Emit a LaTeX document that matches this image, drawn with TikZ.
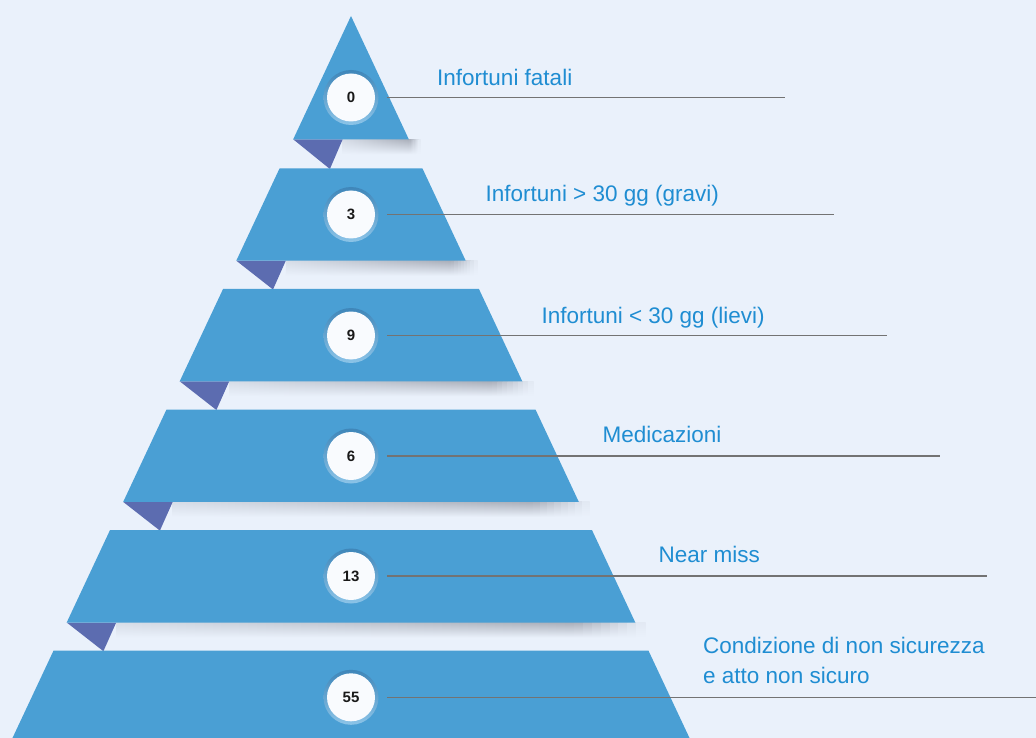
\documentclass[tikz,border=0pt]{standalone}
\usepackage{fontspec}
\setmainfont{Liberation Sans}
\usetikzlibrary{calc}
\definecolor{bg}{HTML}{EAF1FB}
\definecolor{tierblue}{HTML}{4A9FD4}
\definecolor{foldblue}{HTML}{5C6CB0}
\definecolor{labelblue}{HTML}{1F8DD2}
\definecolor{ringdark}{HTML}{3F86B9}
\definecolor{ringlight}{HTML}{8CC4E8}
\definecolor{shadowgray}{HTML}{AAAFBA}
\definecolor{linegray}{HTML}{737373}
\definecolor{discwhite}{HTML}{F9FBFE}
\newcommand\tiershadowstrip[3]{%
  \pgfmathsetmacro\sw{(#2-#1)/60}%
  \foreach \j in {0,...,59}{%
    \pgfmathsetmacro\fr{\j/60}%
    \pgfmathsetmacro\pp{\fr<0.86 ? 70-70*\fr/0.86 : 100*(\fr-0.86)/0.14}%
    \pgfmathsetmacro\xa{#1+\sw*\j}%
    \pgfmathsetmacro\xb{#1+\sw*(\j+1)+0.5}%
    \shade[top color=bg!\pp!shadowgray, bottom color=bg] (\xa,#3) rectangle (\xb,#3+15);
  }%
}
\tikzset{
  tier/.style={fill=tierblue},
  fold/.style={fill=foldblue},
  ring/.style={circle, minimum size=55pt, inner sep=0pt, top color=ringdark, bottom color=ringlight},
  disc/.style={circle, minimum size=48pt, inner sep=0pt, fill=discwhite, font=\fontsize{15}{15}\selectfont\bfseries, text=black!90},
  lbl/.style={anchor=base west, inner sep=0pt, text=labelblue, font=\fontsize{22.5}{30}\selectfont, align=left},
  leader/.style={draw=linegray, line width=1.1pt}
}
\begin{document}
\begin{tikzpicture}[x=1pt, y=-1pt]
\useasboundingbox (0,0) rectangle (1036,738);
\clip (0,0) rectangle (1036,738);
\fill[bg] (0,0) rectangle (1036,738);

% shadows under tiers
\tiershadowstrip{342.7}{420}{139.3}
\tiershadowstrip{285.8}{477}{260.7}
\tiershadowstrip{229.2}{533}{381.3}
\tiershadowstrip{172.7}{589}{501.9}
\tiershadowstrip{116.2}{645}{622.5}

% folds (behind tiers)
\fill[fold] (293.2,139.3) -- (342.7,139.3) -- (329.9,169) -- cycle;
\fill[fold] (236.3,260.7) -- (285.8,260.7) -- (273.0,289.5) -- cycle;
\fill[fold] (179.7,381.3) -- (229.2,381.3) -- (216.4,410) -- cycle;
\fill[fold] (123.2,501.9) -- (172.7,501.9) -- (159.9,530.6) -- cycle;
\fill[fold] (66.7,622.5) -- (116.2,622.5) -- (103.4,651.2) -- cycle;

% tiers
\fill[tier] (351,16) -- (408.8,139.3) -- (293.2,139.3) -- cycle;
\fill[tier] (279.6,168.3) -- (422.4,168.3) -- (465.7,260.7) -- (236.3,260.7) -- cycle;
\fill[tier] (223.1,288.9) -- (478.9,288.9) -- (522.3,381.3) -- (179.7,381.3) -- cycle;
\fill[tier] (166.5,409.5) -- (535.5,409.5) -- (578.8,501.9) -- (123.2,501.9) -- cycle;
\fill[tier] (110.0,530.1) -- (592.0,530.1) -- (635.3,622.5) -- (66.7,622.5) -- cycle;
\fill[tier] (53.5,650.7) -- (648.5,650.7) -- (692.8,745) -- (9.2,745) -- cycle;

% badges
\node[ring] (r0) at (351,97.5) {};
\node[disc] (c0) at (351,97.5) {0};
\node[ring] (r1) at (351,214.5) {};
\node[disc] (c1) at (351,214.5) {3};
\node[ring] (r2) at (351,335.5) {};
\node[disc] (c2) at (351,335.5) {9};
\node[ring] (r3) at (351,456) {};
\node[disc] (c3) at (351,456) {6};
\node[ring] (r4) at (351,576) {};
\node[disc] (c4) at (351,576) {13};
\node[ring] (r5) at (351,697.3) {};
\node[disc] (c5) at (351,697.3) {55};

% leader end points
\coordinate (e0) at (785,97.5);
\coordinate (e1) at (834,214.5);
\coordinate (e2) at (887,335.5);
\coordinate (e3) at (940,456);
\coordinate (e4) at (987,576);
\coordinate (e5) at (1040,697.3);

\foreach \i in {0,...,5}{
  \draw[leader] ($(c\i.east)+(12,0)$) -- (e\i);
}

% labels
\node[lbl] (l0) at (437,85.5) {Infortuni fatali};
\node[lbl] (l1) at (485.5,201.7) {Infortuni > 30 gg (gravi)};
\node[lbl] (l2) at (541.3,323.2) {Infortuni < 30 gg (lievi)};
\node[lbl] (l3) at (602.3,442.5) {Medicazioni};
\node[lbl] (l4) at (658.5,562.4) {Near miss};
\node[lbl] (l5) at (703,683.3) {Condizione di non sicurezza\\e atto non sicuro};
\end{tikzpicture}
\end{document}
